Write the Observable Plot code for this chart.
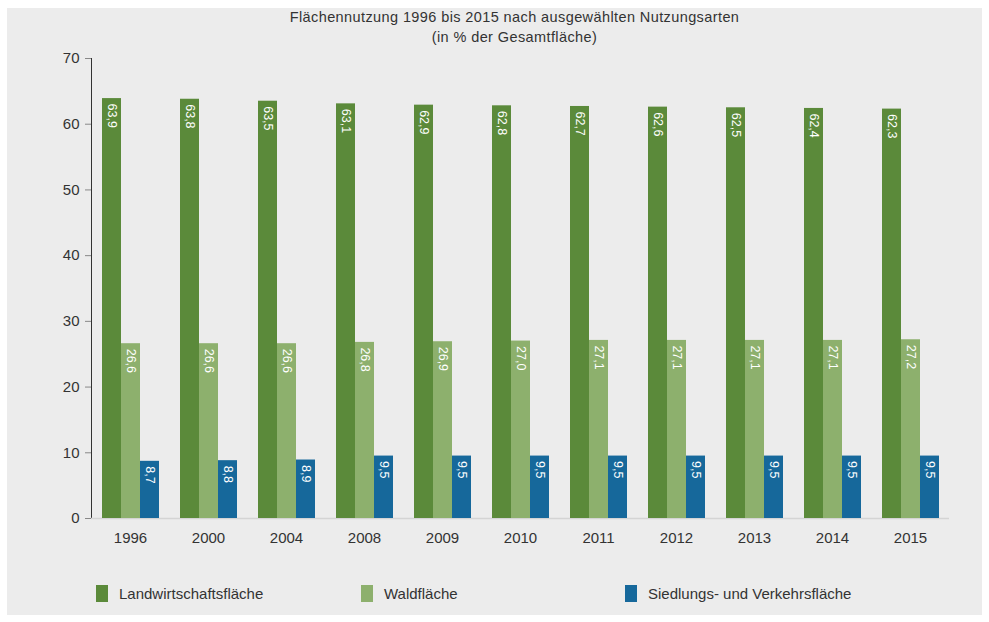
<!DOCTYPE html>
<html><head><meta charset="utf-8">
<script src="https://cdn.jsdelivr.net/npm/d3@7"></script>
<script src="https://cdn.jsdelivr.net/npm/@observablehq/plot@0.6"></script>
<style>
html,body{margin:0;padding:0;background:#fff;}
body{width:989px;height:622px;position:relative;overflow:hidden;font-family:"Liberation Sans",Arial,sans-serif;}
#panel{position:absolute;left:7px;top:8px;width:975px;height:607px;background:#ececec;}
#title{position:absolute;left:0;top:0;width:989px;text-align:center;font-size:14.5px;line-height:20px;color:#333;letter-spacing:0.4px;padding-top:7px;padding-left:40px;box-sizing:border-box;}
#chart{position:absolute;left:0;top:45px;}
#legend{position:absolute;left:0;top:582px;width:989px;height:24px;font-size:15px;color:#333;}
.item{position:absolute;top:0;display:flex;align-items:center;height:22px;}
.sw{width:12px;height:17px;margin-right:11px;}
</style>
</head><body>
<div id="panel"></div>
<div id="title">Flächennutzung 1996 bis 2015 nach ausgewählten Nutzungsarten<br>(in % der Gesamtfläche)</div>
<div id="chart"></div>
<div id="legend"></div>
<script>
const years = ["1996","2000","2004","2008","2009","2010","2011","2012","2013","2014","2015"];
const series = ["Landwirtschaftsfläche","Waldfläche","Siedlungs- und Verkehrsfläche"];
const landwirtschaft = [63.9,63.8,63.5,63.1,62.9,62.8,62.7,62.6,62.5,62.4,62.3];
const wald = [26.6,26.6,26.6,26.8,26.9,27.0,27.1,27.1,27.1,27.1,27.2];
const siedlung = [8.7,8.8,8.9,9.5,9.5,9.5,9.5,9.5,9.5,9.5,9.5];
const yTicks = [0,10,20,30,40,50,60,70];
const colors = ["#5b8a3a","#8db06d","#16689b"];
const legendX = [96,361,625];

const values = [landwirtschaft, wald, siedlung];
const data = [];
years.forEach((yr,i)=>series.forEach((s,j)=>data.push({year:yr, series:s, value:values[j][i]})));
const fmt = v => v.toFixed(1).replace(".", ",");

const chart = Plot.plot({
  width: 989,
  height: 520,
  marginLeft: 86,
  marginRight: 35,
  marginTop: 13,
  marginBottom: 47,
  style: {background: "transparent", fontFamily: "Liberation Sans, Arial, sans-serif", fontSize: "15px", color: "#333"},
  fx: {domain: years, paddingInner: 0, paddingOuter: 0, label: null, axis: "bottom", tickSize: 0, tickPadding: 14},
  x: {domain: series, paddingInner: 0, paddingOuter: 0.545, axis: null},
  y: {domain: [0,70], ticks: yTicks, tickSize: 6, tickPadding: 6, label: null, line: true},
  color: {domain: series, range: colors},
  marks: [
    Plot.ruleY([0], {stroke: "#d4d4d4", strokeWidth: 1.5}),
    Plot.barY(data, {fx: "year", x: "series", y: "value", fill: "series"}),
    Plot.text(data, {fx: "year", x: "series", y: "value", text: d => fmt(d.value), rotate: 90, textAnchor: "start", fill: "white", fontSize: 12.5, dy: 5})
  ]
});
document.getElementById("chart").appendChild(chart);
chart.querySelectorAll("[aria-label='y-axis tick'] path, [aria-label='y-axis line'] path, [aria-label='y-axis line']").forEach(p=>p.setAttribute("stroke","#888"));

const legend = document.getElementById("legend");
series.forEach((s,j)=>{
  const it = document.createElement("div");
  it.className = "item";
  it.style.left = legendX[j] + "px";
  it.innerHTML = `<span class="sw" style="background:${colors[j]}"></span><span>${s}</span>`;
  legend.appendChild(it);
});
</script>
</body></html>
